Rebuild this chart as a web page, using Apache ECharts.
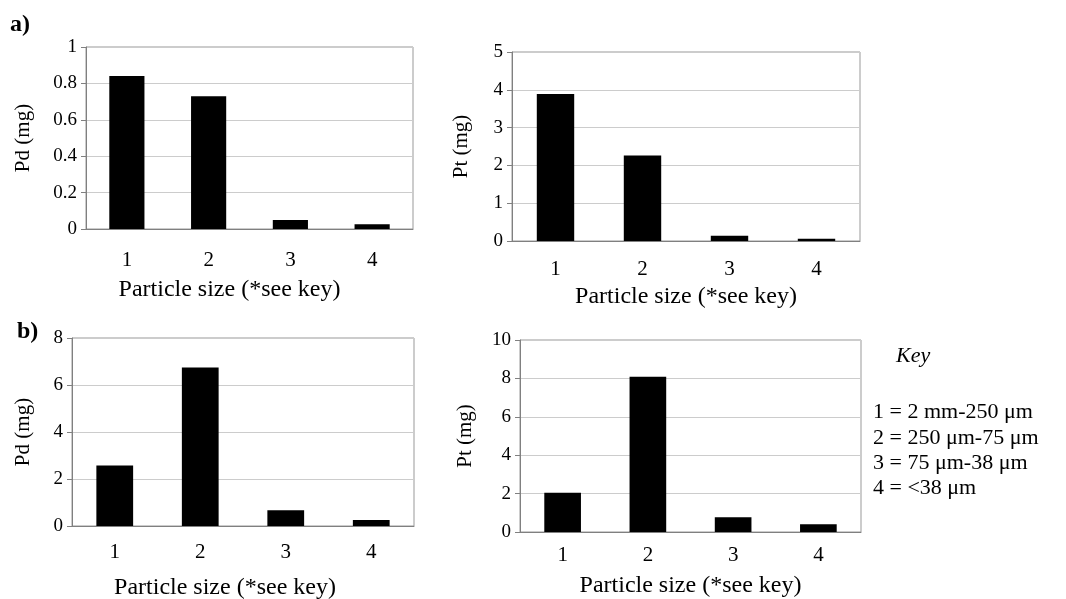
<!DOCTYPE html>
<html>
<head>
<meta charset="utf-8">
<script src="https://cdn.jsdelivr.net/npm/echarts@6/dist/echarts.min.js"></script>
<style>
  html, body { margin: 0; padding: 0; background: #fff; }
  #chart { width: 1066px; height: 599px; }
</style>
</head>
<body>
<div id="chart"></div>
<script>
// particle size classes (see key)
const sizeClasses = ['1', '2', '3', '4'];

// a) Pd and Pt mass per class
const pdA = [0.84, 0.73, 0.05, 0.026];
const ptA = [3.89, 2.26, 0.14, 0.06];

// b) Pd and Pt mass per class
const pdB = [2.57, 6.75, 0.67, 0.26];
const ptB = [2.05, 8.09, 0.77, 0.40];

// key text
const keyLines = [
  '1 = 2 mm-250 \u03bcm',
  '2 = 250 \u03bcm-75 \u03bcm',
  '3 = 75 \u03bcm-38 \u03bcm',
  '4 = <38 \u03bcm'
];

const FONT = '"Liberation Serif", "DejaVu Serif", serif';

// plot rectangles
const grids = [
  { left: 86, top: 47, width: 327, height: 182 },
  { left: 512, top: 52, width: 348, height: 189 },
  { left: 72, top: 338, width: 342, height: 188 },
  { left: 520, top: 340, width: 341, height: 192 }
];

const panels = [
  { data: pdA, name: 'Pd (mg)', max: 1, interval: 0.2, yGap: 52, labelGap: 21, nameGap: 49, xShift: 40 },
  { data: ptA, name: 'Pt (mg)', max: 5, interval: 1, yGap: 40, labelGap: 18, nameGap: 44, xShift: 0 },
  { data: pdB, name: 'Pd (mg)', max: 8, interval: 2, yGap: 38, labelGap: 16, nameGap: 50, xShift: 36 },
  { data: ptB, name: 'Pt (mg)', max: 10, interval: 2, yGap: 44, labelGap: 13, nameGap: 42, xShift: 0 }
];

const chart = echarts.init(document.getElementById('chart'), null, { renderer: 'canvas' });

const option = {
  backgroundColor: '#ffffff',
  animation: false,
  textStyle: { fontFamily: FONT, color: '#000' },
  grid: grids.map(g => Object.assign({
    show: true,
    containLabel: false,
    outerBoundsMode: 'none',
    borderColor: '#999',
    borderWidth: 1,
    backgroundColor: 'transparent'
  }, g)),
  xAxis: panels.map((p, i) => ({
    type: 'category',
    gridIndex: i,
    data: sizeClasses,
    name: 'Particle size (*see key)',
    nameLocation: 'middle',
    nameGap: p.nameGap,
    nameTextStyle: {
      fontFamily: FONT, fontSize: 24, color: '#000',
      padding: [0, p.xShift, 0, 0]
    },
    axisLine: { lineStyle: { color: '#808080', width: 1 } },
    axisTick: { show: false },
    axisLabel: { fontFamily: FONT, fontSize: 21, color: '#000', margin: p.labelGap }
  })),
  yAxis: panels.map((p, i) => ({
    type: 'value',
    gridIndex: i,
    min: 0,
    max: p.max,
    interval: p.interval,
    name: p.name,
    nameLocation: 'middle',
    nameGap: p.yGap,
    nameRotate: 90,
    nameTextStyle: { fontFamily: FONT, fontSize: 21, color: '#000' },
    axisLine: { show: true, lineStyle: { color: '#808080', width: 1 } },
    axisTick: { show: true, length: 5, lineStyle: { color: '#808080' } },
    axisLabel: { fontFamily: FONT, fontSize: 19, color: '#000', margin: 9 },
    splitLine: { show: true, lineStyle: { color: '#cccccc', width: 1 } }
  })),
  series: panels.map((p, i) => ({
    type: 'bar',
    xAxisIndex: i,
    yAxisIndex: i,
    data: p.data,
    barWidth: '43%',
    itemStyle: { color: '#000' }
  })),
  graphic: [
    {
      type: 'text', left: 10, top: 13,
      style: { text: 'a)', font: 'bold 24px ' + FONT, fill: '#000' }
    },
    {
      type: 'text', left: 17, top: 320,
      style: { text: 'b)', font: 'bold 24px ' + FONT, fill: '#000' }
    },
    {
      type: 'text', left: 896, top: 345,
      style: { text: 'Key', font: 'italic 22px ' + FONT, fill: '#000' }
    },
    {
      type: 'text', left: 873, top: 400,
      style: { text: keyLines.join('\n'), font: '22px ' + FONT, fill: '#000', lineHeight: 25.3 }
    }
  ]
};

chart.setOption(option);
</script>
</body>
</html>
